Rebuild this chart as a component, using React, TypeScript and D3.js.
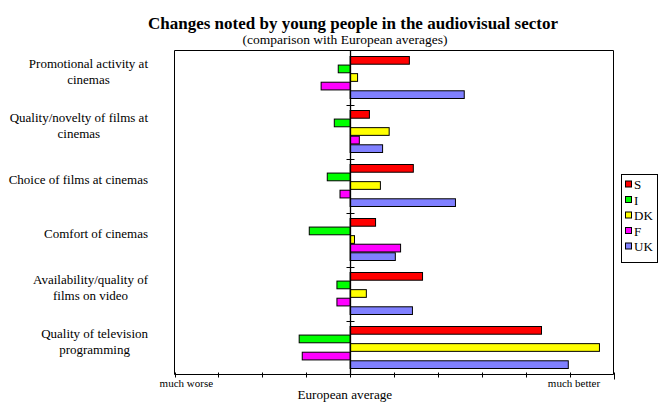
import React, { useEffect, useRef } from "react";
import * as d3 from "d3";

const categories = [
  "Promotional activity at\ncinemas",
  "Quality/novelty of films at\ncinemas",
  "Choice of films at cinemas",
  "Comfort of cinemas",
  "Availability/quality of\nfilms on video",
  "Quality of television\nprogramming",
];
const seriesNames = ["S", "I", "DK", "F", "UK"];
const seriesColors = ["#FF0000", "#00FF00", "#FFFF00", "#FF00FF", "#8080FF"];
const valuesS = [1.35, 0.44, 1.44, 0.58, 1.65, 4.36];
const valuesI = [-0.27, -0.36, -0.52, -0.93, -0.3, -1.16];
const valuesDK = [0.17, 0.89, 0.69, 0.1, 0.37, 5.68];
const valuesF = [-0.66, 0.21, -0.23, 1.15, -0.3, -1.09];
const valuesUK = [2.6, 0.74, 2.4, 1.03, 1.42, 4.97];
const xDomain = [-4, 6];
const xTicks = [-4, -3, -2, -1, 0, 1, 2, 3, 4, 5, 6];
const xTickLabels = [
  { value: -3.73, label: "much worse" },
  { value: 5.1, label: "much better" },
];
const title = "Changes noted by young people in the audiovisual sector";
const subtitle = "(comparison with European averages)";
const axisTitle = "European average";

const FONT = "'Liberation Serif', 'Times New Roman', serif";

export default function App() {
  const ref = useRef<SVGSVGElement | null>(null);

  useEffect(() => {
    document.body.style.margin = "0";
    const svg = d3.select(ref.current!);
    svg.selectAll("*").remove();

    const left = 174.5, right = 613.5, top = 50.5, bottom = 374.5;
    const x = d3.scaleLinear().domain(xDomain).range([left, right]);
    const y = d3.scaleBand<string>().domain(categories).range([top, bottom]).paddingInner(0).paddingOuter(0);
    const inner = d3.scaleBand<string>().domain(seriesNames).range([6, y.bandwidth() - 6]).paddingInner(0.1);
    const allValues = [valuesS, valuesI, valuesDK, valuesF, valuesUK];
    const x0 = Math.round(x(0)) + 0.5;

    // title
    svg.append("text").attr("x", 353).attr("y", 28.5).attr("text-anchor", "middle")
      .attr("font-family", FONT).attr("font-weight", "bold").attr("font-size", 17).text(title);
    svg.append("text").attr("x", 345).attr("y", 44).attr("text-anchor", "middle")
      .attr("font-family", FONT).attr("font-size", 13.5).text(subtitle);

    // frame
    svg.append("path").attr("d", `M${left},${bottom}V${top}H${right}V${bottom}`)
      .attr("fill", "none").attr("stroke", "black").attr("stroke-width", 1);

    // bars
    categories.forEach((c, ci) => {
      allValues.forEach((vals, si) => {
        const v = vals[ci];
        const s = seriesNames[si];
        const y0 = (y(c) as number) + (inner(s) as number);
        svg.append("rect")
          .attr("x", Math.min(x(v), x(0)))
          .attr("y", y0)
          .attr("width", Math.abs(x(v) - x(0)))
          .attr("height", inner.bandwidth())
          .attr("fill", seriesColors[si])
          .attr("stroke", "black")
          .attr("stroke-width", 1);
      });
    });

    // zero line
    svg.append("line").attr("x1", x0).attr("x2", x0).attr("y1", top).attr("y2", bottom)
      .attr("stroke", "black").attr("stroke-width", 1.3);

    // group separators
    categories.slice(1).forEach((c) => {
      const yy = Math.round(y(c) as number) + 0.5;
      svg.append("line").attr("x1", x0 - 4).attr("x2", x0 + 4).attr("y1", yy).attr("y2", yy)
        .attr("stroke", "black").attr("stroke-width", 1);
    });

    // bottom axis
    svg.append("line").attr("x1", left).attr("x2", right).attr("y1", bottom).attr("y2", bottom)
      .attr("stroke", "black").attr("stroke-width", 1);
    xTicks.forEach((t, i) => {
      const xx = Math.round(x(t)) + 0.5;
      svg.append("line").attr("x1", xx).attr("x2", xx).attr("y1", bottom - 2)
        .attr("y2", bottom + (i === xTicks.length - 1 ? 5 : 3))
        .attr("stroke", "black").attr("stroke-width", 1);
    });
    xTickLabels.forEach((t) => {
      svg.append("text").attr("x", x(t.value)).attr("y", 387).attr("text-anchor", "middle")
        .attr("font-family", FONT).attr("font-size", 11).text(t.label);
    });
    svg.append("text").attr("x", x(-0.12)).attr("y", 398.5).attr("text-anchor", "middle")
      .attr("font-family", FONT).attr("font-size", 13.2).text(axisTitle);

    // category labels
    categories.forEach((c) => {
      const lines = c.split("\n");
      const g = svg.append("g");
      const cy = (y(c) as number) + y.bandwidth() / 2;
      const lh = 16.3;
      const texts = lines.map((ln, li) =>
        g.append("text")
          .attr("y", cy - 1.5 + (li - (lines.length - 1) / 2) * lh)
          .attr("text-anchor", "middle")
          .attr("font-family", FONT).attr("font-size", 13).text(ln)
      );
      let maxW = 0;
      texts.forEach((t) => { maxW = Math.max(maxW, (t.node() as SVGTextElement).getComputedTextLength()); });
      texts.forEach((t) => t.attr("x", 148 - maxW / 2));
    });

    // legend
    const lg = svg.append("g");
    lg.append("rect").attr("x", 621.5).attr("y", 174.5).attr("width", 36).attr("height", 88)
      .attr("fill", "white").attr("stroke", "black").attr("stroke-width", 1);
    seriesNames.forEach((s, i) => {
      const yy = 181 + i * 15.5;
      lg.append("rect").attr("x", 625.5).attr("y", yy).attr("width", 6).attr("height", 6)
        .attr("fill", seriesColors[i]).attr("stroke", "black").attr("stroke-width", 1);
      lg.append("text").attr("x", 634).attr("y", yy + 8).attr("font-family", FONT)
        .attr("font-size", 13).text(s);
    });
  }, []);

  return (
    <svg ref={ref} width={665} height={404} style={{ display: "block", background: "white" }} />
  );
}
